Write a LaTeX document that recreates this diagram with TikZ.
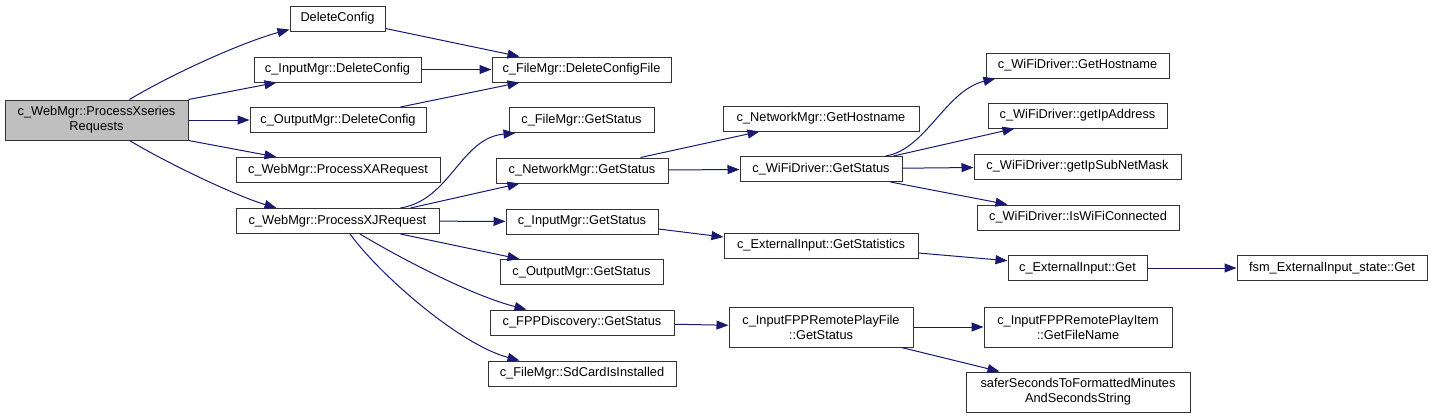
\documentclass[tikz,border=0pt]{standalone}
\usepackage{fontspec}
\setmainfont{Liberation Sans}
\usepackage{xcolor}
\usetikzlibrary{arrows.meta}
\definecolor{edgeblue}{HTML}{191970}
\definecolor{rootgray}{HTML}{BFBFBF}
\tikzset{
  fn/.style={draw=black!80, line width=1pt, fill=white, inner sep=0pt,
    minimum height=25pt, align=center, font=\fontsize{12.8}{15}\selectfont},
  fntwo/.style={fn, minimum height=40pt},
  call/.style={draw=edgeblue, line width=1pt, -{Triangle[length=12pt,width=9pt]}}
}

\begin{document}
\begin{tikzpicture}[x=1pt,y=-1pt]
  \useasboundingbox (0,0) rectangle (1432,418);

  \node[fntwo, fill=rootgray, minimum width=183pt] (xs) at (96.5,120) {c\_WebMgr::ProcessXseries\\Requests};

  \node[fn, minimum width=95pt]  (dc)   at (337.5,18.5) {DeleteConfig};
  \node[fn, minimum width=167pt] (imdc) at (337.5,69.5) {c\_InputMgr::DeleteConfig};
  \node[fn, minimum width=176pt] (omdc) at (338,120)    {c\_OutputMgr::DeleteConfig};
  \node[fn, minimum width=204pt] (xa)   at (338,170)    {c\_WebMgr::ProcessXARequest};
  \node[fn, minimum width=203pt] (xj)   at (337.5,221)  {c\_WebMgr::ProcessXJRequest};

  \node[fn, minimum width=179pt] (fmdcf) at (581.5,69.5) {c\_FileMgr::DeleteConfigFile};
  \node[fn, minimum width=145pt] (fmgs)  at (581.5,120)  {c\_FileMgr::GetStatus};
  \node[fn, minimum width=172pt] (nmgs)  at (582,170.5)  {c\_NetworkMgr::GetStatus};
  \node[fn, minimum width=152pt] (imgs)  at (582,221.5)  {c\_InputMgr::GetStatus};
  \node[fn, minimum width=163pt] (omgs)  at (581.5,272)  {c\_OutputMgr::GetStatus};
  \node[fn, minimum width=184pt] (fppgs) at (582,322.5)  {c\_FPPDiscovery::GetStatus};
  \node[fn, minimum width=188pt] (sdc)   at (582,373.5)  {c\_FileMgr::SdCardIsInstalled};

  \node[fn, minimum width=196pt]    (nmgh)  at (821,118.5) {c\_NetworkMgr::GetHostname};
  \node[fn, minimum width=162pt]    (wfgs)  at (821,169)   {c\_WiFiDriver::GetStatus};
  \node[fn, minimum width=194pt]    (eigst) at (821,245.5) {c\_ExternalInput::GetStatistics};
  \node[fntwo, minimum width=184pt] (rpf)   at (821,327)   {c\_InputFPPRemotePlayFile\\::GetStatus};

  \node[fn, minimum width=183pt]    (wfgh)  at (1077.5,65.5)  {c\_WiFiDriver::GetHostname};
  \node[fn, minimum width=179pt]    (wfip)  at (1077.5,115.5) {c\_WiFiDriver::getIpAddress};
  \node[fn, minimum width=207pt]    (wfsn)  at (1077.5,166.5) {c\_WiFiDriver::getIpSubNetMask};
  \node[fn, minimum width=202pt]    (wfcon) at (1078,217.5)   {c\_WiFiDriver::IsWiFiConnected};
  \node[fn, minimum width=139pt]    (eiget) at (1077.5,268)   {c\_ExternalInput::Get};
  \node[fntwo, minimum width=188pt] (rpi)   at (1078,327)     {c\_InputFPPRemotePlayItem\\::GetFileName};
  \node[fntwo, minimum width=224pt] (safer) at (1078,392)     {saferSecondsToFormattedMinutes\\AndSecondsString};

  \node[fn, minimum width=190pt] (fsm) at (1332,268) {fsm\_ExternalInput\_state::Get};

  % straight calls, centre to centre
  \foreach \a/\b in {xs/omdc, imdc/fmdcf, xj/imgs, nmgs/wfgs, wfgs/wfsn,
                     eiget/fsm, fppgs/rpf, rpf/rpi} {
    \draw[call] (\a) -- (\b);
  };

  \draw[call] ([xshift=33pt]xs.north) .. controls +(45,-27) and +(-45,12) .. ([yshift=2pt]dc.south west);
  \draw[call] (xs.north east) -- ([xshift=23pt]imdc.south west);
  \draw[call] (xs.south east) -- ([xshift=41pt]xa.north west);
  \draw[call] ([xshift=33pt]xs.south) .. controls +(40,24) and +(-40,-12) .. ([xshift=41pt]xj.north west);

  \draw[call] ([yshift=3pt]dc.south east) -- ([xshift=28pt]fmdcf.north west);
  \draw[call] ([xshift=-26pt]omdc.north east) -- ([xshift=28pt]fmdcf.south west);

  \draw[call] ([xshift=-39pt]xj.north east) .. controls +(50,-8) and +(-55,5) .. ([xshift=7pt]fmgs.south west);
  \draw[call] ([xshift=-29pt]xj.north east) -- ([xshift=24pt]nmgs.south west);
  \draw[call] ([xshift=-39pt]xj.south east) -- ([xshift=20pt]omgs.north west);
  \draw[call] ([xshift=22.5pt]xj.south) .. controls +(40,24) and +(-55,-14) .. ([xshift=37pt]fppgs.north west);
  \draw[call] ([xshift=12.5pt]xj.south) .. controls +(30,41) and +(-60,-16) .. ([xshift=32pt]sdc.north west);

  \draw[call] ([xshift=-28pt]nmgs.north east) -- ([xshift=37pt]nmgh.south west);
  \draw[call] ([yshift=-7.5pt]imgs.east) -- ([yshift=8.5pt]eigst.west);

  \draw[call] ([xshift=-17pt]wfgs.north east) .. controls +(40,-6) and +(-50,12) .. ([xshift=10pt]wfgh.south west);
  \draw[call] ([xshift=-9pt]wfgs.north east) -- ([xshift=27pt]wfip.south west);
  \draw[call] ([xshift=-12pt]wfgs.south east) -- ([xshift=31pt]wfcon.north west);

  \draw[call] ([yshift=-7.5pt]eigst.east) -- ([yshift=7.3pt]eiget.west);
  \draw[call] ([xshift=-12pt]rpf.south east) -- ([xshift=34pt]safer.north west);
\end{tikzpicture}
\end{document}
